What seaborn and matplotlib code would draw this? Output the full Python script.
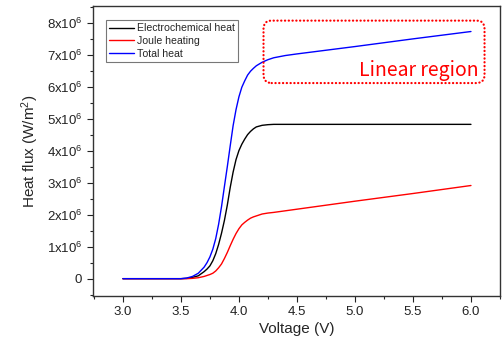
import numpy as np
import pandas as pd
import matplotlib
matplotlib.use("Agg")
import matplotlib.pyplot as plt
from matplotlib.patches import FancyBboxPatch
from matplotlib.ticker import MultipleLocator
import seaborn as sns

# ---- data (heat flux in units of 1e6 W/m^2) ----
voltage = [3.0, 3.5, 3.55, 3.6, 3.65, 3.7, 3.725, 3.75, 3.775, 3.8, 3.825, 3.85,
           3.875, 3.9, 3.925, 3.95, 3.975, 4.0, 4.025, 4.05, 4.075, 4.1, 4.125,
           4.15, 4.2, 4.25, 4.3, 4.4, 4.5, 5.0, 5.5, 6.0]
electrochemical = [0.0, 0.0, 0.01, 0.04, 0.09, 0.22, 0.3, 0.4, 0.56, 0.78, 1.07, 1.42,
                   1.82, 2.3, 2.85, 3.33, 3.72, 4.0, 4.2, 4.36, 4.5, 4.6, 4.68,
                   4.74, 4.79, 4.81, 4.82, 4.82, 4.82, 4.82, 4.82, 4.82]
joule = [0.0, 0.0, 0.0, 0.01, 0.03, 0.07, 0.1, 0.13, 0.17, 0.24, 0.34, 0.46,
         0.63, 0.82, 1.03, 1.23, 1.41, 1.56, 1.68, 1.76, 1.83, 1.89, 1.93,
         1.96, 2.02, 2.05, 2.07, 2.12, 2.17, 2.42, 2.66, 2.91]
total = [0.0, 0.0, 0.02, 0.07, 0.17, 0.36, 0.5, 0.68, 0.92, 1.25, 1.7, 2.25,
         2.88, 3.5, 4.15, 4.78, 5.28, 5.68, 5.98, 6.18, 6.36, 6.48, 6.57,
         6.65, 6.76, 6.84, 6.9, 6.97, 7.02, 7.25, 7.49, 7.72]
series_names = ["Electrochemical heat", "Joule heating", "Total heat"]
series_colors = ["black", "red", "blue"]
x_ticks = [3.0, 3.5, 4.0, 4.5, 5.0, 5.5, 6.0]
y_ticks = [0, 1, 2, 3, 4, 5, 6, 7, 8]  # in units of 1e6

scale = 1e6
df = pd.DataFrame({
    "Voltage": voltage * 3,
    "Flux": [v * scale for v in electrochemical + joule + total],
    "Series": [series_names[0]] * len(voltage) + [series_names[1]] * len(voltage)
              + [series_names[2]] * len(voltage),
})

sns.set_style("ticks")
plt.rcParams["font.family"] = ["Liberation Sans", "DejaVu Sans"]
plt.rcParams["mathtext.fontset"] = "custom"
plt.rcParams["mathtext.rm"] = "Liberation Sans"
plt.rcParams["mathtext.it"] = "Liberation Sans:italic"

fig = plt.figure(figsize=(5.04, 3.47), dpi=100)
ax = fig.add_axes([0.184, 0.148, 0.808, 0.835])

sns.lineplot(data=df, x="Voltage", y="Flux", hue="Series", hue_order=series_names,
             palette=series_colors, linewidth=1.0, ax=ax, legend=False)

ax.set_xlim(2.74, 6.25)
ax.set_ylim(-0.53e6, 8.52e6)
ax.set_xticks(x_ticks)
ax.set_xticklabels([f"{t:.1f}" for t in x_ticks])
ax.set_yticks([t * scale for t in y_ticks])
ax.set_yticklabels(["0" if t == 0 else r"$\mathregular{%dx10^{6}}$" % t for t in y_ticks])
ax.xaxis.set_minor_locator(MultipleLocator(0.25))
ax.yaxis.set_minor_locator(MultipleLocator(0.5e6))
ax.tick_params(which="major", direction="out", length=4, width=0.8, labelsize=9.5,
               colors="#222222")
ax.tick_params(which="minor", direction="out", length=2.2, width=0.8)
ax.tick_params(top=False, right=False, which="both")
for sp in ax.spines.values():
    sp.set_visible(True)
    sp.set_linewidth(1.0)
    sp.set_color("#333333")

ax.set_xlabel("Voltage (V)", fontsize=11, labelpad=3)
ax.set_ylabel(r"Heat flux (W/m$^{2}$)", fontsize=11, labelpad=4)

handles = [plt.Line2D([], [], color=c, lw=1.0) for c in series_colors]
leg = ax.legend(handles, series_names, loc="upper left",
                bbox_to_anchor=(0.032, 0.951), fontsize=7.6, frameon=True,
                fancybox=False, handlelength=2.4, handletextpad=0.3,
                labelspacing=0.25, borderpad=0.3, borderaxespad=0)
leg.get_frame().set_edgecolor("#555555")
leg.get_frame().set_linewidth(0.8)

# dotted rounded box marking the linear region
x0, x1 = 4.212, 6.117
y0, y1 = 6.11e6, 8.06e6
box = FancyBboxPatch((x0, y0), x1 - x0, y1 - y0,
                     boxstyle="round,pad=0,rounding_size=0.07",
                     mutation_aspect=3.6e6,
                     fill=False, edgecolor="red", linewidth=1.6,
                     linestyle=(0, (0.1, 1.6)), capstyle="round",
                     transform=ax.transData, zorder=3)
ax.add_patch(box)
ax.text(6.065, 6.5e6, "Linear region", color="red", fontsize=14,
        ha="right", va="center", family=["Noto Sans CJK KR", "DejaVu Sans"])

fig.savefig("out.png", dpi=100)
